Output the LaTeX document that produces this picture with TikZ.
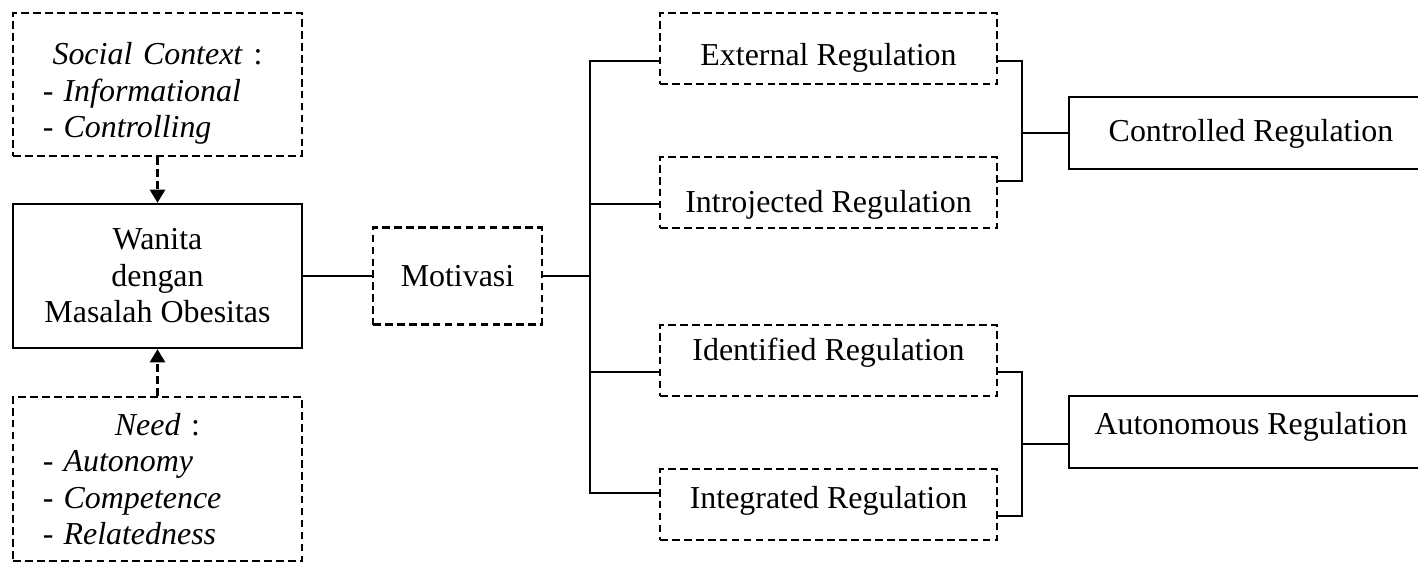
\documentclass[tikz,border=0pt]{standalone}
\usepackage{fontspec}
\setmainfont{Liberation Serif}
\usetikzlibrary{arrows.meta,positioning,calc}

\begin{document}
\begin{tikzpicture}[
    x=0.025cm, y=-0.025cm,
    font=\fontsize{22.7}{26}\selectfont,
    solidbox/.style={draw, line width=1.7pt, inner sep=0pt, align=center},
    dashbox/.style={draw, line width=1.7pt, dash pattern=on 5.5pt off 3pt, inner sep=0pt, align=center},
    sidebox/.style={dashbox, minimum width=7.225cm, text width=5.725cm, align=left},
    regbox/.style={dashbox, minimum width=8.425cm, minimum height=1.775cm},
    groupbox/.style={solidbox, minimum width=9.1cm, minimum height=1.8cm},
    link/.style={line width=1.7pt},
    dlink/.style={line width=1.7pt, dash pattern=on 5.5pt off 3pt, -{Triangle[length=0.33cm,width=0.38cm]}}
  ]
    \useasboundingbox (0,0) rectangle (1418,564);

    % left column
    \node[sidebox, minimum height=3.575cm, text height=1.0cm] (social) at (157.5,84.5)
      {\makebox[5.725cm]{\textit{Social Context} :}\\
       -\hspace{0.25cm}\textit{Informational}\\
       -\hspace{0.25cm}\textit{Controlling}};
    \node[solidbox, minimum width=7.225cm, minimum height=3.6cm] (wanita) at (157.5,276)
      {Wanita\\dengan\\Masalah Obesitas};
    \node[sidebox, minimum height=4.1cm] (need) at (157.5,479)
      {\makebox[5.725cm]{\textit{Need} :}\\
       -\hspace{0.25cm}\textit{Autonomy}\\
       -\hspace{0.25cm}\textit{Competence}\\
       -\hspace{0.25cm}\textit{Relatedness}};

    \node[dashbox, minimum width=4.225cm, minimum height=2.425cm] (motiv) at (457.5,276) {Motivasi};

    % regulation types
    \node[regbox, text height=0.86cm, text depth=0pt] (ext) at (828.5,48.5) {External Regulation};
    \node[regbox, text height=1.01cm, text depth=0pt] (intro) at (828.5,192.5) {Introjected Regulation};
    \node[regbox, text height=0pt, text depth=0pt] (iden) at (828.5,360.5) {Identified Regulation};
    \node[regbox, text height=0.175cm, text depth=0pt] (integ) at (828.5,504.5) {Integrated Regulation};

    \node[groupbox, text height=0.4cm, text depth=0pt] (ctrl) at (1251,133) {Controlled Regulation};
    \node[groupbox, text height=0.115cm, text depth=0pt] (auto) at (1251,432) {Autonomous Regulation};

    \coordinate (trunk) at (590,276);
    \coordinate (cjoin) at (1022,133);
    \coordinate (ajoin) at (1022,444);

    \draw[dlink] (social.south) -- (wanita.north);
    \draw[dlink] (need.north) -- (wanita.south);
    \draw[link] (wanita.east) -- (motiv.west);
    \draw[link] (motiv.east) -- (trunk);
    \foreach \r/\dy in {ext/12.5, intro/11.5, iden/11.5, integ/-11.5}
      \draw[link] ($(\r.west)+(0,\dy)$) -| (trunk);

    \draw[link] ($(ext.east)+(0,12.5)$) -| (cjoin) |- ($(intro.east)+(0,-11.5)$);
    \draw[link] (cjoin) -- (ctrl.west);
    \draw[link] ($(iden.east)+(0,11.5)$) -| (ajoin) |- ($(integ.east)+(0,11.5)$);
    \draw[link] (ajoin) -- (ajoin -| auto.west);
\end{tikzpicture}
\end{document}
